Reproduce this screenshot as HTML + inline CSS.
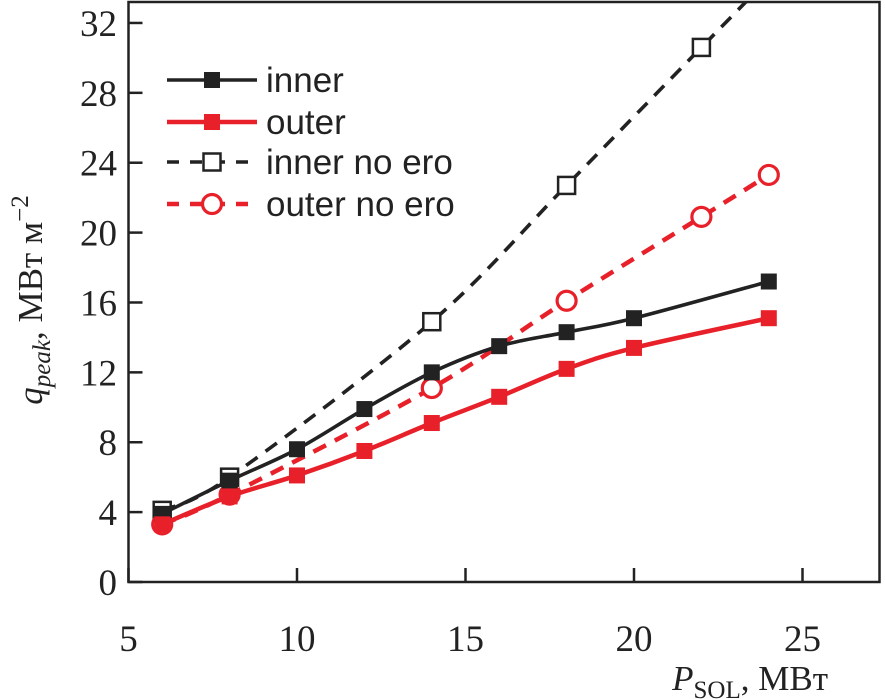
<!DOCTYPE html>
<html><head><meta charset="utf-8"><style>
html,body{margin:0;padding:0;background:#fff;}
svg{display:block;font-family:"Liberation Serif",serif;}
</style></head><body>
<svg id="chart" width="885" height="699" viewBox="0 0 885 699">
<defs><clipPath id="clip"><rect x="128.5" y="2" width="751" height="580"/></clipPath></defs>
<g id="axes"></g>
<g id="series" clip-path="url(#clip)"></g>
<g id="legend"></g>
<text x="0" y="0" transform="translate(42,300) rotate(-90)" text-anchor="middle" font-size="35" fill="#222"><tspan font-style="italic">q</tspan><tspan font-style="italic" font-size="25" dy="8">peak</tspan><tspan dy="-8">, МВт м</tspan><tspan font-size="25" dy="-14">−2</tspan></text>
<text x="828" y="690" text-anchor="end" font-size="35" fill="#222"><tspan font-style="italic">P</tspan><tspan font-size="25" dy="8">SOL</tspan><tspan dy="-8">, МВт</tspan></text>
</svg>
<script>
const xTicks = [5, 10, 15, 20, 25];
const yTicks = [0, 4, 8, 12, 16, 20, 24, 28, 32];
const innerX = [6, 8, 10, 12, 14, 16, 18, 20, 24];
const innerY = [3.9, 5.8, 7.6, 9.9, 12.0, 13.5, 14.3, 15.1, 17.2];
const outerX = [6, 8, 10, 12, 14, 16, 18, 20, 24];
const outerY = [3.3, 4.9, 6.1, 7.5, 9.1, 10.6, 12.2, 13.4, 15.1];
const innerNoEroX = [6, 8, 14, 18, 22];
const innerNoEroY = [4.1, 6.0, 14.9, 22.7, 30.6];
const outerNoEroX = [6, 8, 14, 18, 22, 24];
const outerNoEroY = [3.3, 5.0, 11.1, 16.1, 20.9, 23.3];

const X0=128.5, PXX=33.7, Y0=582, PXY=17.47;
const sx = v => X0 + (v-5)*PXX;
const sy = v => Y0 - v*PXY;
const NS="http://www.w3.org/2000/svg";
function mk(tag, attrs, parent){const e=document.createElementNS(NS,tag);for(const k in attrs)e.setAttribute(k,attrs[k]);parent.appendChild(e);return e;}
const axes=document.getElementById('axes'), ser=document.getElementById('series'), leg=document.getElementById('legend');

const frame=mk('rect',{x:128.5,y:2,width:751,height:580,fill:'none',stroke:'#222','stroke-width':2.5},axes);


xTicks.forEach(t=>{
  const l=mk('line',{x1:sx(t),x2:sx(t),y1:Y0,y2:Y0-14,stroke:'#222','stroke-width':2.5},axes);
  
  
  const tx=mk('text',{x:sx(t),y:651,'text-anchor':'middle','font-size':37,fill:'#222'},axes);
  tx.textContent=t;
  
  
});
yTicks.forEach(t=>{
  const l=mk('line',{x1:X0,x2:X0+14,y1:sy(t),y2:sy(t),stroke:'#222','stroke-width':2.5},axes);
  
  
  const tx=mk('text',{x:117,y:sy(t)+13,'text-anchor':'end','font-size':37,fill:'#222'},axes);
  tx.textContent=t;
  
  
});

function smoothPath(pts){
  let d=`M${pts[0][0]},${pts[0][1]}`;
  for(let i=0;i<pts.length-1;i++){
    const p0=pts[Math.max(0,i-1)],p1=pts[i],p2=pts[i+1],p3=pts[Math.min(pts.length-1,i+2)];
    const c1=[p1[0]+(p2[0]-p0[0])/6,p1[1]+(p2[1]-p0[1])/6];
    const c2=[p2[0]-(p3[0]-p1[0])/6,p2[1]-(p3[1]-p1[1])/6];
    d+=` C${c1[0]},${c1[1]} ${c2[0]},${c2[1]} ${p2[0]},${p2[1]}`;
  }
  return d;
}
function series(xs, ys, color, dashed, marker, name, extend, width){
  let pts=xs.map((x,i)=>[sx(x),sy(ys[i])]);
  if(extend){const n=xs.length;const s=(ys[n-1]-ys[n-2])/(xs[n-1]-xs[n-2]);pts.push([sx(xs[n-1]+4),sy(ys[n-1]+4*s)]);}
  const p=mk('path',{d:smoothPath(pts),fill:'none',stroke:color,'stroke-width':width,'stroke-dasharray':dashed?'14,10':'none'},ser);
  
  
  xs.forEach((x,i)=>{
    const cx=sx(x),cy=sy(ys[i]);let m;
    if(marker==='fsq') m=mk('rect',{x:cx-8,y:cy-8,width:16,height:16,fill:color},ser);
    else if(marker==='osq') m=mk('rect',{x:cx-8.5,y:cy-8.5,width:17,height:17,fill:'#fff',stroke:color,'stroke-width':2.5},ser);
    else m=mk('circle',{cx:cx,cy:cy,r:9.5,fill:'#fff',stroke:color,'stroke-width':3.2},ser);
    
    
  });
}
series(innerNoEroX,innerNoEroY,'#222',true,'osq','inner-no-ero',true,3.6);
series(outerNoEroX,outerNoEroY,'#e8202a',true,'circ','outer-no-ero',false,4.5);
series(innerX,innerY,'#222',false,'fsq','inner',false,3.6);
series(outerX,outerY,'#e8202a',false,'fsq','outer',false,4.5);

const legItems=[['inner','#222',false,'fsq',80,3.6],['outer','#e8202a',false,'fsq',122,4.5],['inner no ero','#222',true,'osq',162,3.6],['outer no ero','#e8202a',true,'circ',204,4.5]];
legItems.forEach(([lab,c,dash,mkr,y,w])=>{
  const l=mk('line',{x1:167,x2:257,y1:y,y2:y,stroke:c,'stroke-width':w,'stroke-dasharray':dash?'12,11':'none'},leg);
  
  
  let m;
  if(mkr==='fsq') m=mk('rect',{x:204,y:y-8,width:16,height:16,fill:c},leg);
  else if(mkr==='osq') m=mk('rect',{x:203.5,y:y-8.5,width:17,height:17,fill:'#fff',stroke:c,'stroke-width':2.5},leg);
  else m=mk('circle',{cx:212,cy:y,r:9.5,fill:'#fff',stroke:c,'stroke-width':3.2},leg);
  
  
  const t=mk('text',{x:266,y:y+12,'font-size':35,fill:'#222','font-family':'"Liberation Sans",sans-serif'},leg);
  t.textContent=lab;
  
  
});
</script>
</body></html>
